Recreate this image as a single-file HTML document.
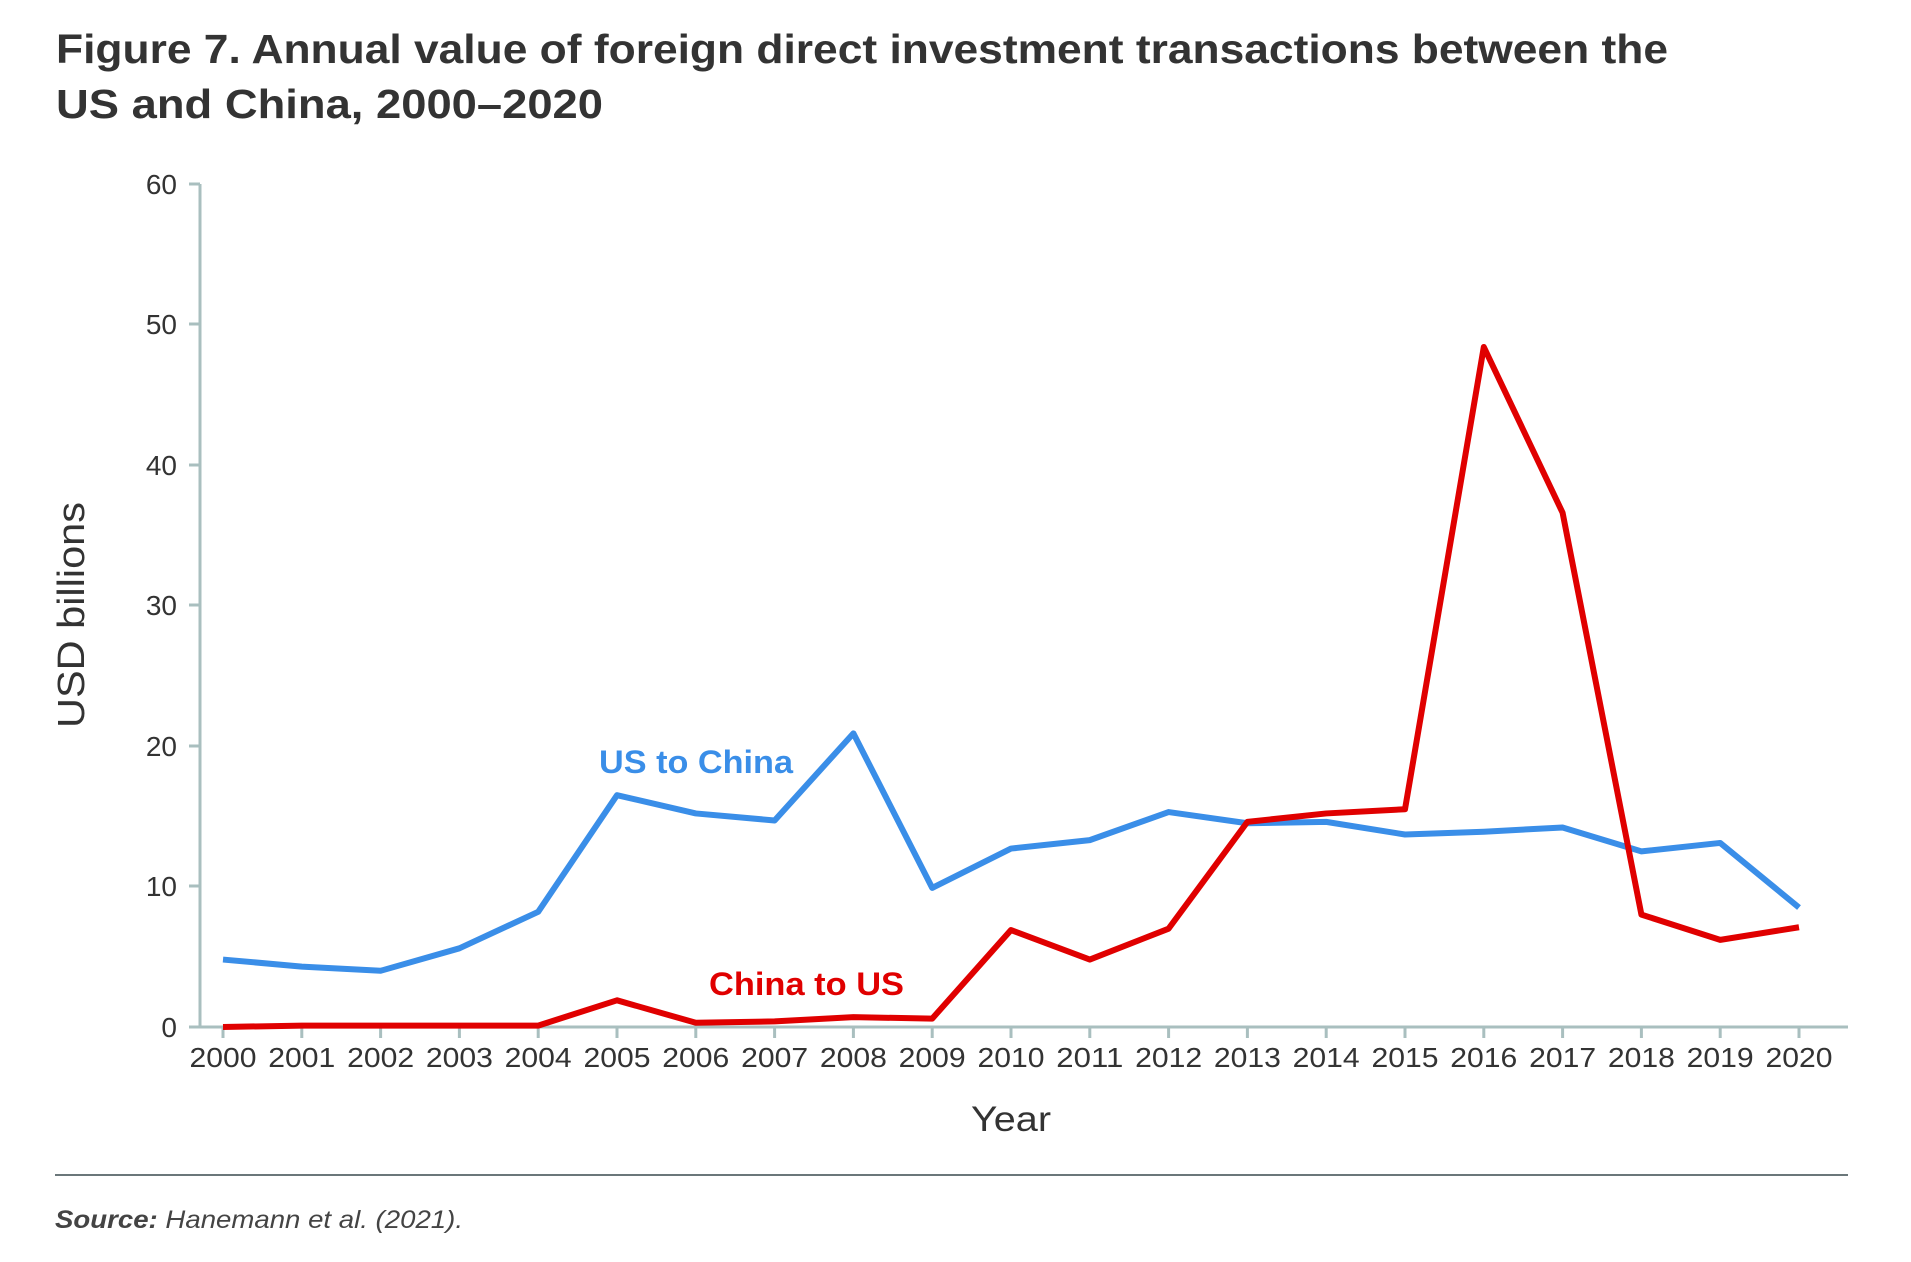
<!DOCTYPE html>
<html><head><meta charset="utf-8"><style>
html,body{margin:0;padding:0;background:#fff;}
svg{display:block;}
</style></head><body>
<svg width="1911" height="1262" viewBox="0 0 1911 1262" xmlns="http://www.w3.org/2000/svg" font-family="Liberation Sans, sans-serif">
<text x="56" y="63" font-size="41" font-weight="bold" fill="#333" textLength="1612" lengthAdjust="spacingAndGlyphs">Figure 7. Annual value of foreign direct investment transactions between the</text>
<text x="56" y="118" font-size="41" font-weight="bold" fill="#333" textLength="547" lengthAdjust="spacingAndGlyphs">US and China, 2000–2020</text>
<g stroke="#a9bfbf" stroke-width="3" fill="none">
<line x1="200" y1="184" x2="200" y2="1028"/>
<line x1="189" y1="1027" x2="1848" y2="1027"/>
<line x1="189" y1="184" x2="200" y2="184"/>
<line x1="189" y1="324" x2="200" y2="324"/>
<line x1="189" y1="465" x2="200" y2="465"/>
<line x1="189" y1="605" x2="200" y2="605"/>
<line x1="189" y1="746" x2="200" y2="746"/>
<line x1="189" y1="886" x2="200" y2="886"/>
</g>
<g id="xt" stroke="#a9bfbf" stroke-width="3"></g>
<g font-size="28" fill="#333" text-anchor="end">
<text x="177" y="194">60</text><text x="177" y="334">50</text><text x="177" y="475">40</text>
<text x="177" y="615">30</text><text x="177" y="756">20</text><text x="177" y="896">10</text><text x="177" y="1037">0</text>
</g>
<g id="xl" font-size="28" fill="#333" text-anchor="middle"></g>
<text transform="translate(84,615) rotate(-90)" font-size="38" fill="#333" text-anchor="middle" textLength="226" lengthAdjust="spacingAndGlyphs">USD billions</text>
<text x="1011" y="1131" font-size="35" fill="#333" text-anchor="middle" textLength="80" lengthAdjust="spacingAndGlyphs">Year</text>
<polyline id="us" fill="none" stroke="#3a8ee8" stroke-width="6" stroke-linejoin="round"/>
<polyline id="cn" fill="none" stroke="#e00000" stroke-width="6" stroke-linejoin="round"/>
<text x="599" y="773" font-size="32" font-weight="bold" fill="#3a8ee8" textLength="194" lengthAdjust="spacingAndGlyphs">US to China</text>
<text x="709" y="995" font-size="32" font-weight="bold" fill="#e00000" textLength="195" lengthAdjust="spacingAndGlyphs">China to US</text>
<line x1="55" y1="1175" x2="1848" y2="1175" stroke="#6b777a" stroke-width="2"/>
<text x="55" y="1228" font-size="25" font-style="italic" fill="#444" textLength="408" lengthAdjust="spacingAndGlyphs"><tspan font-weight="bold">Source:</tspan> Hanemann et al. (2021).</text>
<script>
var us=[4.8,4.3,4.0,5.6,8.2,16.5,15.2,14.7,20.9,9.9,12.7,13.3,15.3,14.5,14.6,13.7,13.9,14.2,12.5,13.1,8.5];
var cn=[0,0.1,0.1,0.1,0.1,1.9,0.3,0.4,0.7,0.6,6.9,4.8,7.0,14.6,15.2,15.5,48.4,36.6,8.0,6.2,7.1];
function X(i){return 223+i*78.8;} function Y(v){return 1027-v*14.05;}
document.getElementById('us').setAttribute('points',us.map(function(v,i){return X(i)+','+Y(v)}).join(' '));
document.getElementById('cn').setAttribute('points',cn.map(function(v,i){return X(i)+','+Y(v)}).join(' '));
var ns='http://www.w3.org/2000/svg',xt=document.getElementById('xt'),xl=document.getElementById('xl');
for(var i=0;i<21;i++){var l=document.createElementNS(ns,'line');l.setAttribute('x1',X(i));l.setAttribute('x2',X(i));l.setAttribute('y1',1027);l.setAttribute('y2',1038);xt.appendChild(l);
var t=document.createElementNS(ns,'text');t.setAttribute('x',X(i));t.setAttribute('y',1067);t.setAttribute('textLength',67);t.setAttribute('lengthAdjust','spacingAndGlyphs');t.textContent=2000+i;xl.appendChild(t);}
</script>
</svg>
</body></html>
